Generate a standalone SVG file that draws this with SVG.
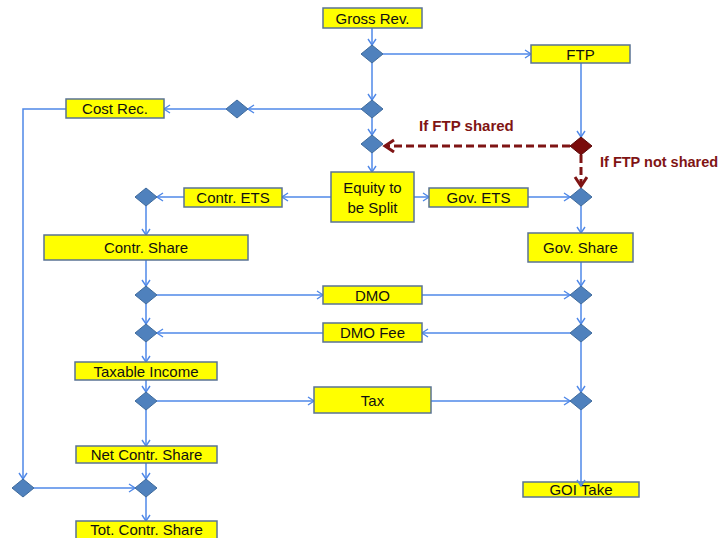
<svg xmlns="http://www.w3.org/2000/svg" width="720" height="538" viewBox="0 0 720 538">
<style>
.box{fill:#ffff00;stroke:#5a7394;stroke-width:1.5}
.dia{fill:#4f81bd;stroke:#3e6a9c;stroke-width:1}
.dred{fill:#7a0c0c;stroke:#5a0808;stroke-width:1}
.t{font-family:"Liberation Sans",Arial,sans-serif;font-size:15px;fill:#111;text-anchor:middle}
.lbl{font-family:"Liberation Sans",Arial,sans-serif;font-size:15px;font-weight:bold;fill:#7f1414}
.c{fill:none;stroke:#4f88e8;stroke-width:1.5;marker-end:url(#ar)}
.d{fill:none;stroke:#7f1414;stroke-width:3;stroke-dasharray:8 4;marker-end:url(#ard)}
</style>
<defs>
<marker id="ar" markerUnits="userSpaceOnUse" markerWidth="10" markerHeight="12" refX="7" refY="5" orient="auto">
<path d="M1,1 L7,5 L1,9" fill="none" stroke="#4f88e8" stroke-width="1.4"/>
</marker>
<marker id="ard" markerUnits="userSpaceOnUse" markerWidth="14" markerHeight="16" refX="10" refY="7" orient="auto">
<path d="M1,1 L10,7 L1,13" fill="none" stroke="#7f1414" stroke-width="3"/>
</marker>
</defs>
<g id="connectors">
<path class="c" d="M372,28 V45"/>
<path class="c" d="M383,54 H531"/>
<path class="c" d="M372,63 V100"/>
<path class="c" d="M361,109 H248"/>
<path class="c" d="M226,109 H164"/>
<path class="c" d="M66,109 H23 V479"/>
<path class="c" d="M372,118 V135"/>
<path class="c" d="M581,63 V137"/>
<path class="d" d="M570,146 H385"/>
<path class="d" d="M581,155 V186"/>
<path class="c" d="M372,153 V172"/>
<path class="c" d="M331,197 H282"/>
<path class="c" d="M184,197 H157"/>
<path class="c" d="M414,197 H429"/>
<path class="c" d="M528,197 H570"/>
<path class="c" d="M146,206 V235"/>
<path class="c" d="M581,206 V233"/>
<path class="c" d="M146,260 V286"/>
<path class="c" d="M581,262 V286"/>
<path class="c" d="M157,295 H323"/>
<path class="c" d="M422,295 H570"/>
<path class="c" d="M146,304 V324"/>
<path class="c" d="M581,304 V324"/>
<path class="c" d="M570,333 H422"/>
<path class="c" d="M323,333 H157"/>
<path class="c" d="M146,342 V362"/>
<path class="c" d="M146,380 V392"/>
<path class="c" d="M581,342 V392"/>
<path class="c" d="M157,401 H314"/>
<path class="c" d="M431,401 H570"/>
<path class="c" d="M146,410 V446"/>
<path class="c" d="M146,463 V479"/>
<path class="c" d="M34,488 H135"/>
<path class="c" d="M146,497 V521"/>
</g>
<g id="labels">
<text class="lbl" x="419" y="131">If FTP shared</text>
<text class="lbl" x="600" y="167" style="font-size:14.5px">If FTP not shared</text>
</g>
<g id="gross-rev"><rect class="box" x="323" y="8" width="99" height="20"/><text class="t" x="372.5" y="23.5">Gross Rev.</text></g>
<g id="d1"><path class="dia" d="M372,45 L383,54 L372,63 L361,54 Z"/></g>
<g id="ftp"><rect class="box" x="531" y="45" width="99" height="18"/><text class="t" x="580.5" y="59.5">FTP</text></g>
<g id="d2"><path class="dia" d="M372,100 L383,109 L372,118 L361,109 Z"/></g>
<g id="d-cost"><path class="dia" d="M237,100 L248,109 L237,118 L226,109 Z"/></g>
<g id="cost-rec"><rect class="box" x="66" y="99" width="98" height="19"/><text class="t" x="115" y="114">Cost Rec.</text></g>
<g id="d3"><path class="dia" d="M372,135 L383,144 L372,153 L361,144 Z"/></g>
<g id="d-ftp"><path class="dred" d="M581,137 L592,146 L581,155 L570,146 Z"/></g>
<g id="equity"><rect class="box" x="331" y="172" width="83" height="50"/><text class="t" x="372.5" y="193">Equity to</text><text class="t" x="372.5" y="213">be Split</text></g>
<g id="contr-ets"><rect class="box" x="184" y="188" width="98" height="19"/><text class="t" x="233" y="203">Contr. ETS</text></g>
<g id="d-contr"><path class="dia" d="M146,188 L157,197 L146,206 L135,197 Z"/></g>
<g id="gov-ets"><rect class="box" x="429" y="188" width="99" height="19"/><text class="t" x="478.5" y="203">Gov. ETS</text></g>
<g id="d-gov"><path class="dia" d="M581,188 L592,197 L581,206 L570,197 Z"/></g>
<g id="contr-share"><rect class="box" x="44" y="235" width="204" height="25"/><text class="t" x="146" y="253">Contr. Share</text></g>
<g id="gov-share"><rect class="box" x="528" y="233" width="105" height="29"/><text class="t" x="580.5" y="253">Gov. Share</text></g>
<g id="d-l1"><path class="dia" d="M146,286 L157,295 L146,304 L135,295 Z"/></g>
<g id="d-r1"><path class="dia" d="M581,286 L592,295 L581,304 L570,295 Z"/></g>
<g id="dmo"><rect class="box" x="323" y="286" width="99" height="18"/><text class="t" x="372.5" y="300.5">DMO</text></g>
<g id="d-l2"><path class="dia" d="M146,324 L157,333 L146,342 L135,333 Z"/></g>
<g id="d-r2"><path class="dia" d="M581,324 L592,333 L581,342 L570,333 Z"/></g>
<g id="dmo-fee"><rect class="box" x="323" y="323" width="99" height="19"/><text class="t" x="372.5" y="338">DMO Fee</text></g>
<g id="taxable"><rect class="box" x="75" y="362" width="142" height="18"/><text class="t" x="146" y="376.5">Taxable Income</text></g>
<g id="d-l3"><path class="dia" d="M146,392 L157,401 L146,410 L135,401 Z"/></g>
<g id="d-r3"><path class="dia" d="M581,392 L592,401 L581,410 L570,401 Z"/></g>
<g id="tax"><rect class="box" x="314" y="387" width="117" height="26"/><text class="t" x="372.5" y="405.5">Tax</text></g>
<g id="net-contr"><rect class="box" x="76" y="446" width="141" height="17"/><text class="t" x="146.5" y="460">Net Contr. Share</text></g>
<g id="d-ll"><path class="dia" d="M23,479 L34,488 L23,497 L12,488 Z"/></g>
<g id="d-l4"><path class="dia" d="M146,479 L157,488 L146,497 L135,488 Z"/></g>
<g id="tot-contr"><rect class="box" x="76" y="521" width="141" height="22"/><text class="t" x="146.5" y="535">Tot. Contr. Share</text></g>
<g id="goi-take"><rect class="box" x="523" y="482" width="116" height="15"/><text class="t" x="581" y="495">GOI Take</text></g>
<path class="c" d="M581,410 V486"/>
</svg>
